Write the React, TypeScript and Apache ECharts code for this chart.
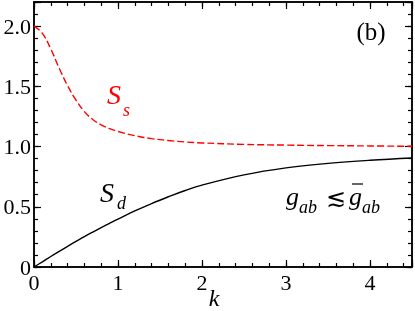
import React, { useEffect, useRef } from "react";
import * as echarts from "echarts";

const kValues = [0, 0.1, 0.2, 0.3, 0.4, 0.5, 0.6, 0.7, 0.8, 0.9, 1.0, 1.2, 1.4, 1.6, 1.8, 2.0, 2.5, 3.0, 3.5, 4.0, 4.5];
const ssValues = [2.0, 1.94, 1.81, 1.65, 1.505, 1.385, 1.29, 1.225, 1.18, 1.148, 1.125, 1.09, 1.066, 1.05, 1.038, 1.03, 1.018, 1.012, 1.008, 1.005, 1.002];
const sdValues = [0, 0.043, 0.087, 0.13, 0.172, 0.212, 0.252, 0.29, 0.327, 0.363, 0.398, 0.465, 0.527, 0.583, 0.635, 0.68, 0.765, 0.823, 0.86, 0.886, 0.905];

const xMin = 0;
const xMax = 4.5;
const yMin = 0;
const yMax = 2.2;

const FONT = "Liberation Serif";

export default function App() {
  const ref = useRef<HTMLDivElement>(null);
  useEffect(() => {
    if (!ref.current) return;
    const chart = echarts.init(ref.current, undefined, { renderer: "svg" });
    const axisLine = { show: true, onZero: false, lineStyle: { color: "#000", width: 1.5 } };
    const mkX = (pos: string, major: boolean, labels: boolean) => ({
      type: "value",
      position: pos,
      min: xMin,
      max: xMax,
      interval: major ? 1 : 0.2,
      axisLine,
      splitLine: { show: false },
      axisTick: { show: true, inside: true, length: major ? 7 : 4, lineStyle: { color: "#000", width: 1.2 } },
      axisLabel: {
        show: labels,
        margin: 4,
        fontFamily: FONT,
        fontSize: 22,
        color: "#000",
        formatter: (v: number) => (Math.abs(v - Math.round(v)) < 1e-6 ? String(Math.round(v)) : ""),
      },
    });
    const mkY = (pos: string, major: boolean, labels: boolean) => ({
      type: "value",
      position: pos,
      min: yMin,
      max: yMax,
      interval: major ? 0.5 : 0.1,
      axisLine,
      splitLine: { show: false },
      axisTick: { show: true, inside: true, length: major ? 7 : 4, lineStyle: { color: "#000", width: 1.2 } },
      axisLabel: {
        show: labels,
        margin: 3,
        fontFamily: FONT,
        fontSize: 22,
        color: "#000",
        formatter: (v: number) => {
          if (Math.abs(v * 2 - Math.round(v * 2)) > 1e-6) return "";
          return v === 0 ? "0" : v.toFixed(1);
        },
      },
    });
    const txt = (text: string, x: number, y: number, size: number, fill: string, italic = true, align = "left") => ({
      type: "text",
      x,
      y,
      style: {
        text,
        fill,
        fontFamily: FONT,
        fontSize: size,
        fontStyle: italic ? "italic" : "normal",
        textAlign: align,
        textVerticalAlign: "middle",
        align,
        verticalAlign: "middle",
      },
    });
    chart.setOption({
      animation: false,
      grid: { left: 34, right: 2, top: 2, bottom: 44, containLabel: false },
      xAxis: [mkX("bottom", true, true), mkX("bottom", false, false), mkX("top", true, false), mkX("top", false, false)],
      yAxis: [mkY("left", true, true), mkY("left", false, false), mkY("right", true, false), mkY("right", false, false)],
      series: [
        {
          type: "line",
          xAxisIndex: 0,
          yAxisIndex: 0,
          data: kValues.map((k, i) => [k, ssValues[i]]),
          smooth: 0.4,
          showSymbol: false,
          symbol: "none",
          lineStyle: { color: "#ff0000", width: 1.4, type: [7, 3] },
        },
        {
          type: "line",
          xAxisIndex: 0,
          yAxisIndex: 0,
          data: kValues.map((k, i) => [k, sdValues[i]]),
          smooth: 0.4,
          showSymbol: false,
          symbol: "none",
          lineStyle: { color: "#000", width: 1.4 },
        },
      ],
      graphic: [
        txt("S", 107, 94, 28, "#ff0000"),
        txt("s", 123, 110, 18, "#ff0000"),
        txt("S", 100, 192, 28, "#000"),
        txt("d", 117, 203, 18, "#000"),
        txt("g", 286, 196, 26, "#000"),
        txt("ab", 299, 207, 18, "#000"),
        txt("≲", 335.5, 198, 24, "#000", false, "center"),
        txt("g", 349, 196, 26, "#000"),
        { type: "line", shape: { x1: 352, y1: 184, x2: 363, y2: 184 }, style: { stroke: "#000", lineWidth: 1.2 } },
        txt("ab", 362, 207, 18, "#000"),
        txt("(b)", 371, 31, 25, "#000", false, "center"),
        txt("k", 214, 298, 24, "#000", true, "center"),
      ],
    });
    return () => chart.dispose();
  }, []);
  return <div ref={ref} style={{ position: "fixed", left: 0, top: 0, width: 415, height: 311 }} />;
}
